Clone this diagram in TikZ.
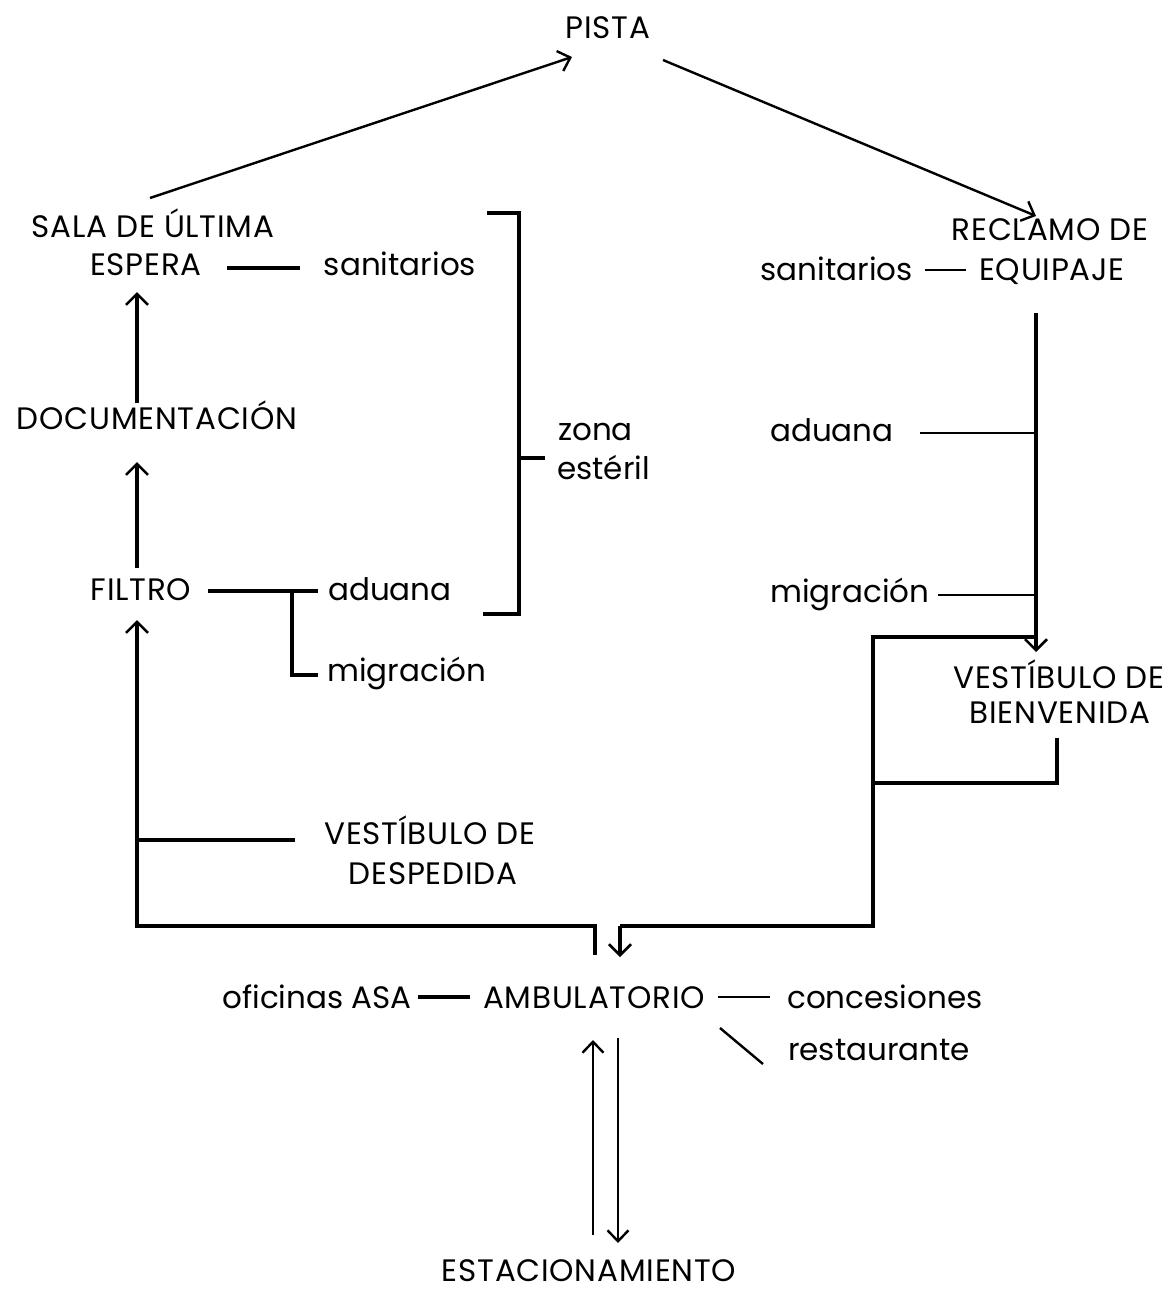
\documentclass[tikz,border=0pt]{standalone}
\usepackage{fontspec}
\setmainfont{Poppins}
\usetikzlibrary{arrows.meta}
\begin{document}
\begin{tikzpicture}[x=1pt,y=-1pt,
  lbl/.style={anchor=base, inner sep=0pt, font=\fontsize{31}{36}\selectfont},
  caps/.style={lbl, font=\fontsize{31}{36}\selectfont\addfontfeatures{LetterSpace=2.5}},
  lblw/.style={lbl, anchor=base west},
  lble/.style={lbl, anchor=base east},
  conn/.style={line width=3.2pt, line join=miter},
  thin conn/.style={line width=2pt},
  arr/.style={conn, -{Straight Barb[length=11pt,width=22pt,line width=2.6pt]}},
  darr/.style={line width=2.4pt, -{Straight Barb[length=11pt,width=21pt,line width=2.4pt]}}]
\useasboundingbox (0,0) rectangle (1171,1291);

% labels
\node[caps] (pista) at (608,38) {PISTA};
\node[caps] (sala1) at (153,237) {SALA DE ÚLTIMA};
\node[caps] (sala) at (146,275) {ESPERA};
\node[lbl] (sanL) at (400,275) {sanitarios};
\node[caps] (doc) at (157,429) {DOCUMENTACIÓN};
\node[lblw] (zona) at (558,440) {zona};
\node[lblw] (esteril) at (557,479) {estéril};
\node[caps] (filtro) at (141,600) {FILTRO};
\node[lblw] (aduL) at (328,600) {aduana};
\node[lblw] (migL) at (327,681) {migración};
\node[caps] (vdesp1) at (430,844) {VESTÍBULO DE};
\node[caps] (vdesp) at (433,884) {DESPEDIDA};
\node[caps] (recl1) at (1050,240) {RECLAMO DE};
\node[caps] (recl) at (1052,280) {EQUIPAJE};
\node[lble] (sanR) at (913,280) {sanitarios};
\node[lblw] (aduR) at (770,441) {aduana};
\node[lblw] (migR) at (770,602) {migración};
\node[caps] (vbien1) at (1059,688) {VESTÍBULO DE};
\node[caps] (vbien) at (1060,723) {BIENVENIDA};
\node[lble] (ofi) at (412,1008) {oficinas ASA};
\node[caps] (amb) at (594,1008) {AMBULATORIO};
\node[lblw] (conc) at (787,1008) {concesiones};
\node[lblw] (rest) at (788,1060) {restaurante};
\node[caps] (estac) at (589,1281) {ESTACIONAMIENTO};

% named points
\coordinate (a1s) at (150,198);
\coordinate (a1e) at (572,57);
\coordinate (a2s) at (663,60);
\coordinate (a2e) at (1036,216);
\coordinate (brT) at (487,213);
\coordinate (brTR) at (519,213);
\coordinate (brBR) at (519,614);
\coordinate (brB) at (483,614);
\coordinate (brM) at (519,458);
\coordinate (brMe) at (545,458);
\coordinate (fj) at (292,591);
\coordinate (fjb) at (292,675);
\coordinate (lb) at (137,926);
\coordinate (lbm) at (595,926);
\coordinate (lbt) at (595,955);
\coordinate (lv) at (137,840);
\coordinate (rtop) at (1036,313);
\coordinate (rarr) at (1036,652);
\coordinate (radu) at (1036,433);
\coordinate (rmig) at (1036,595);
\coordinate (bxTR) at (1036,637);
\coordinate (bxTL) at (873,637);
\coordinate (bxML) at (873,783);
\coordinate (bxMR) at (1057,783);
\coordinate (bxU) at (1057,738);
\coordinate (bxBL) at (873,926);
\coordinate (rbm) at (620,926);
\coordinate (rbe) at (620,957);

% top diagonal arrows
\draw[darr] (a1s) -- (a1e);
\draw[darr] (a2s) -- (a2e);

% left column
\draw[conn] (227,268) -- (300,268);
\draw[arr] (137,403) -- (137,292);
\draw[arr] (137,568) -- (137,462);
\draw[conn] (208,591) -- (318,591);
\draw[conn] (fj) -- (fjb) -- (318,675);

% bracket
\draw[conn] (brT) -- (brTR) -- (brBR) -- (brB);
\draw[conn] (brM) -- (brMe);

% left loop
\draw[arr] (lbt) -- (lbm) -- (lb) -- (137,620);
\draw[conn] (lv) -- (295,840);

% right column
\draw[arr] (rtop) -- (rarr);
\draw[line width=2.4pt] (925,270) -- (966,270);
\draw[thin conn] (920,433) -- (radu);
\draw[thin conn] (938,595) -- (rmig);
\draw[conn] (bxTR) -- (bxTL) -- (bxBL) -- (rbm);
\draw[arr] (rbm) -- (rbe);
\draw[conn] (bxML) -- (bxMR) -- (bxU);

% ambulatorio
\draw[conn] (418,997) -- (470,997);
\draw[thin conn] (718,997) -- (770,997);
\draw[line width=2.4pt] (720,1028) -- (763,1064);
\draw[darr] (593,1235) -- (593,1040);
\draw[darr] (618,1038) -- (618,1243);
\end{tikzpicture}
\end{document}
